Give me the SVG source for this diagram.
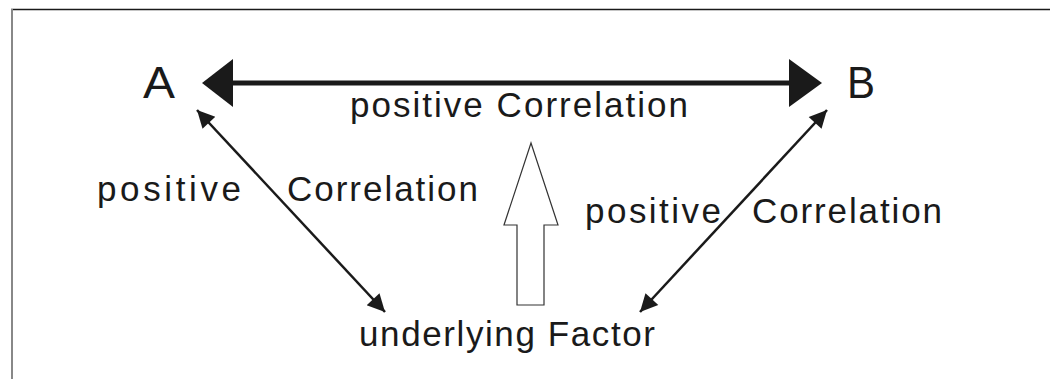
<svg xmlns="http://www.w3.org/2000/svg" width="1050" height="379" viewBox="0 0 1050 379">
<style>
text{font-family:"Liberation Sans",Arial,sans-serif;fill:#1a1a1a}
.lbl{font-size:35px}
.big{font-size:44px}
.ln{stroke:#1a1a1a;fill:none}
</style>
<defs>
<marker id="ah" viewBox="0 0 10 10" refX="10" refY="5" markerWidth="8" markerHeight="7" markerUnits="strokeWidth" orient="auto-start-reverse">
<path d="M0,0 L10,5 L0,10 z" fill="#1a1a1a"/>
</marker>
</defs>
<rect width="1050" height="379" fill="#fff"/>
<g id="frame">
<line x1="11" y1="9.5" x2="1050" y2="9.5" stroke="#1a1a1a" stroke-width="1.5"/>
<line x1="12" y1="9" x2="12" y2="379" stroke="#888" stroke-width="2"/>
</g>
<g id="connectors">
<line class="ln" x1="232" y1="83" x2="790" y2="83" stroke-width="5"/>
<path d="M202,83 L233,59 L233,107 z" fill="#1a1a1a"/>
<path d="M822,83 L789,59 L789,107 z" fill="#1a1a1a"/>
<line class="ln" x1="197" y1="110" x2="385" y2="312" stroke-width="2.5" marker-start="url(#ah)" marker-end="url(#ah)"/>
<line class="ln" x1="827" y1="110" x2="640" y2="312" stroke-width="2.5" marker-start="url(#ah)" marker-end="url(#ah)"/>
<path d="M531,143 L558,225 L544,225 L544,305 L517,305 L517,225 L504,225 z" fill="#fff" stroke="#333" stroke-width="1.2"/>
</g>
<g id="nodeA"><text class="big" x="143" y="98" textLength="32" lengthAdjust="spacingAndGlyphs">A</text></g>
<g id="nodeB"><text class="big" x="847" y="98" textLength="28" lengthAdjust="spacingAndGlyphs">B</text></g>
<g id="labelTop"><text class="lbl" x="350" y="117" textLength="338" lengthAdjust="spacing">positive Correlation</text></g>
<g id="labelLeft"><text class="lbl" x="97" y="201" textLength="144" lengthAdjust="spacing">positive</text><text class="lbl" x="287" y="201" textLength="191" lengthAdjust="spacing">Correlation</text></g>
<g id="labelRight"><text class="lbl" x="585" y="223" textLength="136" lengthAdjust="spacing">positive</text><text class="lbl" x="752" y="223" textLength="190" lengthAdjust="spacing">Correlation</text></g>
<g id="nodeFactor"><text class="lbl" x="359" y="346" textLength="296" lengthAdjust="spacing">underlying Factor</text></g>
</svg>
